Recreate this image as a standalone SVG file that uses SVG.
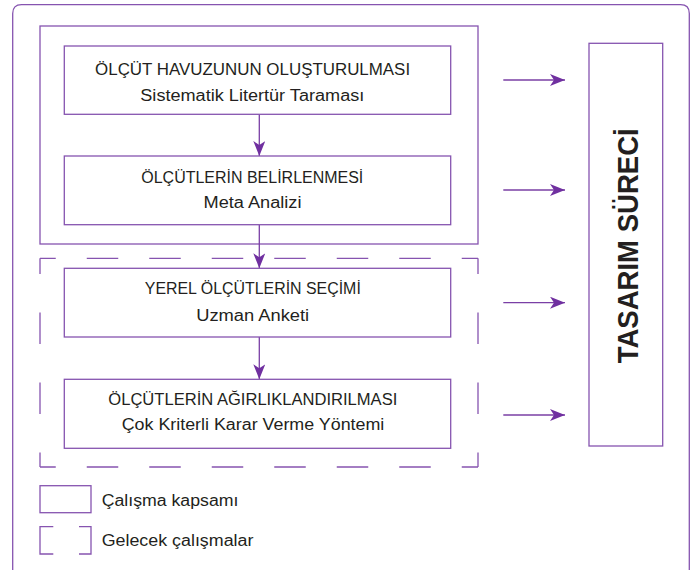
<svg xmlns="http://www.w3.org/2000/svg" width="691" height="570" viewBox="0 0 691 570">
<style>
.ln{fill:none;stroke:#8654b0;stroke-width:1.3}
.bx{fill:#fff;stroke:#8654b0;stroke-width:1.3}
.ar{fill:none;stroke:#7a3fa5;stroke-width:1.3}
.t{font-family:"Liberation Sans",Arial,sans-serif;font-size:16px;fill:#231f20;text-anchor:middle}
.lg{font-family:"Liberation Sans",Arial,sans-serif;font-size:16px;fill:#231f20}
.dh{fill:none;stroke:#8654b0;stroke-width:1.3;stroke-dasharray:31.5 31;stroke-dashoffset:15.75}
.dv{fill:none;stroke:#8654b0;stroke-width:1.3;stroke-dasharray:31.5 38.5;stroke-dashoffset:15.75}
</style>
<defs>
<marker id="ah" markerWidth="16" markerHeight="12" refX="15" refY="6" orient="auto" markerUnits="userSpaceOnUse">
<path d="M0,0 L15,6 L0,12 L4,6 Z" fill="#7030a0"/>
</marker>
</defs>
<rect width="691" height="570" fill="#fff"/>
<g id="outer-frame">
<path class="ln" d="M12.7,570 V13.5 Q12.7,4.7 21.5,4.7 H680.5 Q689.3,4.7 689.3,13.5 V570"/>
</g>
<g id="study-scope-frame">
<rect class="ln" x="40" y="26" width="438" height="218"/>
</g>
<g id="future-work-frame">
<path class="dh" d="M40,258.3 H478"/>
<path class="dh" d="M40,467 H478"/>
<path class="dv" d="M40,258.3 V467"/>
<path class="dv" d="M478,258.3 V467"/>
</g>
<g id="connectors">
<path class="ar" d="M259.3,114.3 V156" marker-end="url(#ah)"/>
<path class="ar" d="M259.3,224.7 V268.3" marker-end="url(#ah)"/>
<path class="ar" d="M259.3,337 V379.3" marker-end="url(#ah)"/>
<path class="ar" d="M503.3,80 H565" marker-end="url(#ah)"/>
<path class="ar" d="M503.3,190 H565" marker-end="url(#ah)"/>
<path class="ar" d="M503.3,302.7 H565" marker-end="url(#ah)"/>
<path class="ar" d="M503.3,415 H565" marker-end="url(#ah)"/>
</g>
<g id="node1">
<rect class="bx" x="64.3" y="46" width="386.4" height="68.3"/>
<text class="t" x="252.6" y="75" textLength="315" lengthAdjust="spacingAndGlyphs">ÖLÇÜT HAVUZUNUN OLUŞTURULMASI</text>
<text class="t" x="252.3" y="101" textLength="224" lengthAdjust="spacingAndGlyphs">Sistematik Litertür Taraması</text>
</g>
<g id="node2">
<rect class="bx" x="64.3" y="156" width="386.4" height="68.7"/>
<text class="t" x="252.3" y="182.7" textLength="222" lengthAdjust="spacingAndGlyphs">ÖLÇÜTLERİN BELİRLENMESİ</text>
<text class="t" x="252.5" y="208" textLength="98" lengthAdjust="spacingAndGlyphs">Meta Analizi</text>
</g>
<g id="node3">
<rect class="bx" x="64.3" y="268.3" width="386.4" height="68.7"/>
<text class="t" x="252.8" y="294.3" textLength="216" lengthAdjust="spacingAndGlyphs">YEREL ÖLÇÜTLERİN SEÇİMİ</text>
<text class="t" x="252.7" y="321" textLength="113" lengthAdjust="spacingAndGlyphs">Uzman Anketi</text>
</g>
<g id="node4">
<rect class="bx" x="64.3" y="379.3" width="386.4" height="69"/>
<text class="t" x="252.8" y="405" textLength="289" lengthAdjust="spacingAndGlyphs">ÖLÇÜTLERİN AĞIRLIKLANDIRILMASI</text>
<text class="t" x="253" y="430" textLength="262.6" lengthAdjust="spacingAndGlyphs">Çok Kriterli Karar Verme Yöntemi</text>
</g>
<g id="design-process">
<rect class="bx" x="589" y="43.3" width="73.7" height="402.7"/>
<text x="638.3" y="245.8" transform="rotate(-90 638.3 245.8)" font-family="'Liberation Sans',Arial,sans-serif" font-size="29" font-weight="bold" fill="#231f20" text-anchor="middle" textLength="235" lengthAdjust="spacingAndGlyphs" dominant-baseline="auto">TASARIM SÜRECİ</text>
</g>
<g id="legend-scope">
<rect class="ln" x="40" y="485.7" width="51" height="27"/>
<text class="lg" x="101.7" y="506" textLength="136.7" lengthAdjust="spacingAndGlyphs">Çalışma kapsamı</text>
</g>
<g id="legend-future">
<path class="ln" d="M53.3,526.7 H40 V554 H53.3"/>
<path class="ln" d="M79,526.7 H91 V554 H79"/>
<text class="lg" x="101.7" y="546" textLength="151.7" lengthAdjust="spacingAndGlyphs">Gelecek çalışmalar</text>
</g>
</svg>
